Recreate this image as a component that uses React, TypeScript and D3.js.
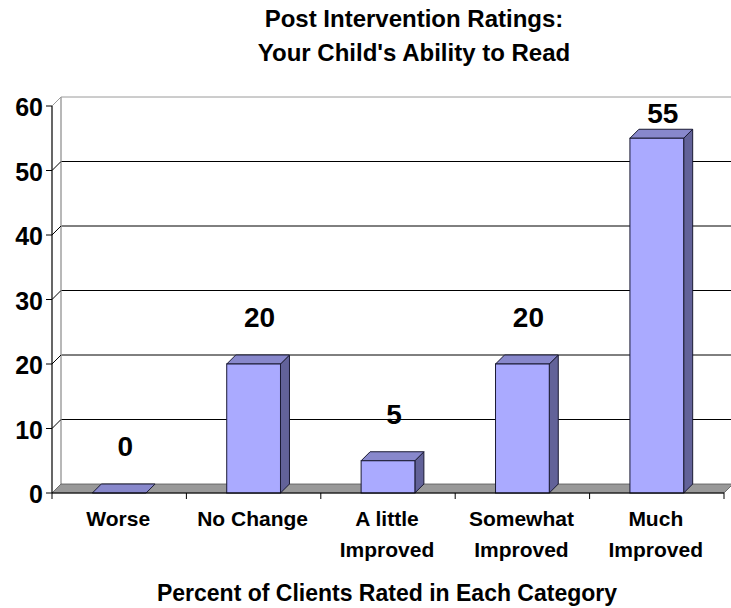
import React from "react";
import * as d3 from "d3";

const categories = ["Worse", "No Change", "A little\nImproved", "Somewhat\nImproved", "Much\nImproved"];
const values = [0, 20, 5, 20, 55];
const yTicks = [0, 10, 20, 30, 40, 50, 60];
const titleLines = ["Post Intervention Ratings:", "Your Child's Ability to Read"];
const xTitle = "Percent of Clients Rated in Each Category";

const W = 731;
const H = 608;
const DX = 9;
const DY = -9;
const FONT = "'Liberation Sans', Arial, Helvetica, sans-serif";

export default function App() {
  const x = d3
    .scaleBand<string>()
    .domain(categories)
    .range([52, 724])
    .paddingInner(0.6)
    .paddingOuter(0.3);
  const y = d3.scaleLinear().domain([0, 60]).range([493, 106]);
  const x0 = 52;
  const x1 = 724;
  const y0 = y(0);
  const step = x.step();
  const bw = x.bandwidth();
  const boundaries = d3.range(categories.length + 1).map((i) => x0 + i * step);
  const plotBackTop = y(60) + DY;

  const pts = (arr: [number, number][]) => arr.map((p) => p.join(",")).join(" ");

  return (
    <svg
      width={W}
      height={H}
      style={{ position: "absolute", left: 0, top: 0, background: "#fff" }}
      fontFamily={FONT}
    >
      {/* back wall gridlines */}
      {yTicks
        .filter((t) => t > 0)
        .map((t) => (
          <line
            key={"g" + t}
            x1={x0 + DX}
            x2={W}
            y1={y(t) + DY}
            y2={y(t) + DY}
            stroke={t === 60 ? "#9a9a9a" : "#000"}
            strokeWidth={1}
          />
        ))}
      {/* left wall back edge */}
      <line x1={x0 + DX} x2={x0 + DX} y1={y(60) + DY} y2={y0 + DY} stroke="#a0a0a0" strokeWidth={1.5} />
      {/* left wall diagonals */}
      {yTicks
        .filter((t) => t > 0)
        .map((t) => (
          <line
            key={"d" + t}
            x1={x0}
            y1={y(t)}
            x2={x0 + DX}
            y2={y(t) + DY}
            stroke={t === 60 ? "#9a9a9a" : "#000"}
            strokeWidth={1}
          />
        ))}
      {/* floor */}
      <polygon
        points={pts([
          [x0, y0],
          [x1, y0],
          [x1 + DX, y0 + DY],
          [x0 + DX, y0 + DY],
        ])}
        fill="#999999"
        stroke="#555"
        strokeWidth={0.8}
      />
      {/* bars */}
      {values.map((v, i) => {
        const bx = x(categories[i]) as number;
        const top = y(v);
        return (
          <g key={"b" + i} stroke="#1a1a33" strokeWidth={1}>
            {v > 0 && (
              <polygon
                points={pts([
                  [bx + bw, top],
                  [bx + bw + DX, top + DY],
                  [bx + bw + DX, y0 + DY],
                  [bx + bw, y0],
                ])}
                fill="#626299"
              />
            )}
            <polygon
              points={pts([
                [bx, top],
                [bx + bw, top],
                [bx + bw + DX, top + DY],
                [bx + DX, top + DY],
              ])}
              fill="#8888cc"
            />
            {v > 0 && <rect x={bx} y={top} width={bw} height={y0 - top} fill="#aaaaff" />}
          </g>
        );
      })}
      {/* value labels */}
      {values.map((v, i) => {
        const cx = (x(categories[i]) as number) + bw / 2 + 6;
        const backTop = y(v) + DY;
        const base = Math.max(backTop - 28, plotBackTop + 26);
        return (
          <text key={"v" + i} x={cx} y={base} textAnchor="middle" fontSize={28} fontWeight="bold" fill="#000">
            {v}
          </text>
        );
      })}
      {/* y axis */}
      <line x1={x0} x2={x0} y1={y(60)} y2={y0} stroke="#000" strokeWidth={1.2} />
      {yTicks.map((t) => (
        <g key={"yt" + t}>
          <line x1={x0 - 6} x2={x0} y1={y(t)} y2={y(t)} stroke="#000" strokeWidth={1} />
          <text x={43} y={y(t) + 10} textAnchor="end" fontSize={25} fontWeight="bold" fill="#000">
            {t}
          </text>
        </g>
      ))}
      {/* x axis */}
      <line x1={x0} x2={x1} y1={y0} y2={y0} stroke="#000" strokeWidth={1.2} />
      {boundaries.map((b, i) => (
        <line key={"xt" + i} x1={b} x2={b} y1={y0} y2={y0 + 6} stroke="#000" strokeWidth={1} />
      ))}
      {categories.map((c, i) => {
        const cx = (x(c) as number) + bw / 2 - 1;
        return (
          <text key={"xl" + i} x={cx} textAnchor="middle" fontSize={21} fontWeight="bold" fill="#000">
            {c.split("\n").map((line, j) => (
              <tspan key={j} x={cx} y={526 + j * 31}>
                {line}
              </tspan>
            ))}
          </text>
        );
      })}
      {/* titles */}
      {titleLines.map((t, i) => (
        <text key={"t" + i} x={414} y={27 + i * 34} textAnchor="middle" fontSize={24} fontWeight="bold" fill="#000">
          {t}
        </text>
      ))}
      <text x={387} y={601} textAnchor="middle" fontSize={23} fontWeight="bold" fill="#000">
        {xTitle}
      </text>
    </svg>
  );
}
